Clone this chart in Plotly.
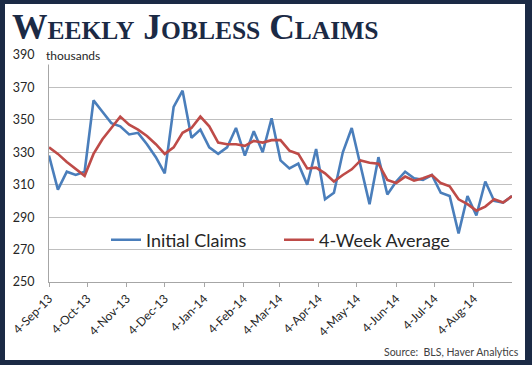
import plotly.graph_objects as go
import pandas as pd

# ---- data ----
start_date = "2013-09-04"
initial_claims = [328, 307, 318, 316, 318, 362, 355, 348, 346, 341, 342, 335, 327, 317,
                  358, 368, 339, 344, 333, 329, 333, 345, 328, 343, 330, 351, 325, 320,
                  323, 310, 332, 301, 305, 330, 345, 322, 298, 327, 304, 312, 318, 314,
                  313, 316, 305, 303, 280, 303, 291, 312, 300, 299, 303]
four_week_avg = [333, 329, 324, 319.5, 315.5, 329, 338, 345, 352, 347, 344, 340, 335, 329,
                 333, 342, 345, 352, 346, 336, 335, 335, 334, 337, 336, 337.5, 337.5, 331,
                 329, 320, 320.5, 317, 312, 316, 319.5, 325, 323.5, 323, 313, 311, 315, 312.5,
                 314, 316, 311, 309, 301, 298, 294, 296.5, 301, 299, 303]
tick_dates = ["2013-09-04", "2013-10-04", "2013-11-04", "2013-12-04", "2014-01-04",
              "2014-02-04", "2014-03-04", "2014-04-04", "2014-05-04", "2014-06-04",
              "2014-07-04", "2014-08-04"]
tick_labels = ["4-Sep-13", "4-Oct-13", "4-Nov-13", "4-Dec-13", "4-Jan-14", "4-Feb-14",
               "4-Mar-14", "4-Apr-14", "4-May-14", "4-Jun-14", "4-Jul-14", "4-Aug-14"]
y_ticks = [250, 270, 290, 310, 330, 350, 370, 390]

dates = pd.date_range(start_date, periods=len(initial_claims), freq="7D")

W, H = 532, 365
ML, MR, MT, MB = 49, 20, 55, 83
PW, PH = W - ML - MR, H - MT - MB

def px_x(p):
    return (p - ML) / PW

def px_y(p):
    return (H - MB - p) / PH

NAVY = "#1b2a45"
FONT = "Lato, Roboto, sans-serif"

fig = go.Figure()
fig.add_trace(go.Scatter(x=dates, y=initial_claims, mode="lines", name="Initial Claims",
                         line=dict(color="#4a7ebb", width=2.6)))
fig.add_trace(go.Scatter(x=dates, y=four_week_avg, mode="lines", name="4-Week Average",
                         line=dict(color="#be4b48", width=2.6)))

fig.update_layout(
    width=W, height=H,
    margin=dict(l=ML, r=MR, t=MT, b=MB, pad=0, autoexpand=False),
    paper_bgcolor=NAVY, plot_bgcolor="white",
    showlegend=True,
    legend=dict(orientation="h", x=px_x(106), y=px_y(240), xanchor="left", yanchor="middle",
                bgcolor="rgba(0,0,0,0)", font=dict(family=FONT, size=18, color="#262626"),
                entrywidth=128, entrywidthmode="pixels", itemwidth=30, tracegroupgap=0),
    xaxis=dict(type="date", range=[dates[0], dates[-1]], tickvals=tick_dates, ticktext=tick_labels,
               tickangle=-45, tickfont=dict(family=FONT, size=12, color="#262626"),
               showgrid=False, showline=True, linecolor="#a6a6a6", linewidth=1, automargin=False,
               ticks="outside", ticklen=4, tickcolor="#a6a6a6", zeroline=False),
    yaxis=dict(range=[250, 390], tickvals=y_ticks, tickfont=dict(family=FONT, size=12.5, color="#262626"),
               showgrid=True, gridcolor="#bfbfbf", gridwidth=1, showline=True, linecolor="#a6a6a6",
               linewidth=1, ticks="", ticklabelstandoff=11, zeroline=False, automargin=False),
    shapes=[dict(type="rect", xref="paper", yref="paper", x0=px_x(5), x1=px_x(525),
                 y0=px_y(360), y1=px_y(4), fillcolor="white", line=dict(width=0), layer="below")],
    annotations=[
        dict(text="W<span style='font-size:25.5px'>EEKLY</span> J<span style='font-size:25.5px'>OBLESS</span> C<span style='font-size:25.5px'>LAIMS</span>",
             xref="paper", yref="paper", x=px_x(10), y=px_y(27), xanchor="left", yanchor="middle",
             showarrow=False, font=dict(family="Liberation Serif", size=35.5, color=NAVY, weight="bold")),
        dict(text="thousands", xref="paper", yref="paper", x=px_x(44), y=1, xanchor="left",
             yanchor="middle", showarrow=False, bgcolor="white", borderpad=1,
             font=dict(family=FONT, size=12, color="#262626")),
        dict(text="Source:  BLS, Haver Analytics", xref="paper", yref="paper", x=px_x(521), y=px_y(352),
             xanchor="right", yanchor="middle", showarrow=False,
             font=dict(family=FONT, size=10.5, color="#404040")),
    ],
)

fig.write_html("out.html", config={"displayModeBar": False},
               post_script="document.body.style.margin='0';document.body.style.overflow='hidden';")
